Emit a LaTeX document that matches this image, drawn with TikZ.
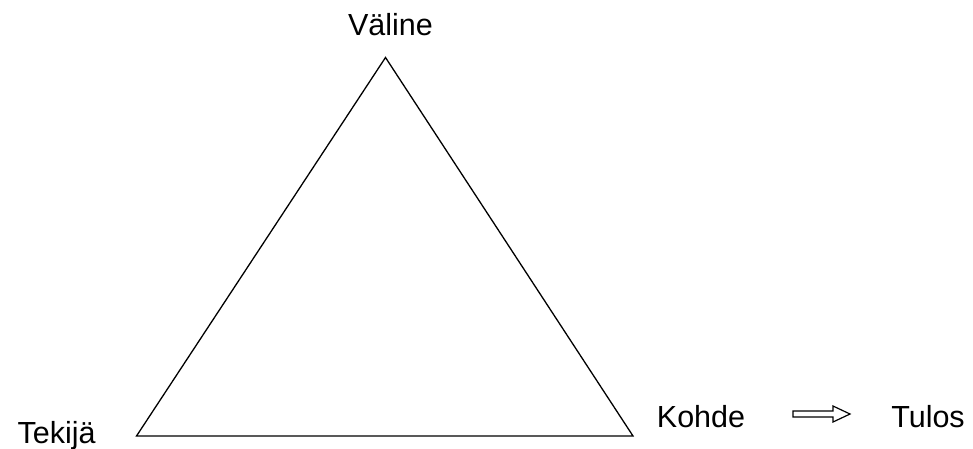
\documentclass[tikz,border=0pt]{standalone}
\usepackage{fontspec}
\setmainfont{Liberation Sans}
\begin{document}
\begin{tikzpicture}[x=1pt,y=-1pt,
  lbl/.style={anchor=base,inner sep=0pt,font=\fontsize{30.5}{34}\selectfont},
  edge/.style={draw=black,line width=1.3pt,line join=miter},
  blockarrow/.style={draw=black,line width=1.2pt,fill=white}]
\useasboundingbox (0,0) rectangle (973,448);
\coordinate (top) at (385.5,57.5);
\coordinate (bl) at (136.5,436);
\coordinate (br) at (633,436);
\draw[edge] (top) -- (bl) -- (br) -- cycle;
\node[lbl] (valine) at (390.5,35) {Väline};
\node[lbl] (tekija) at (56.5,443) {Tekijä};
\node[lbl] (kohde) at (701,427) {Kohde};
\node[lbl] (tulos) at (928,427) {Tulos};
\draw[blockarrow] (793,411) -- (833,411) -- (833,406) -- (850,414) -- (833,422) -- (833,417) -- (793,417) -- cycle;
\end{tikzpicture}
\end{document}
